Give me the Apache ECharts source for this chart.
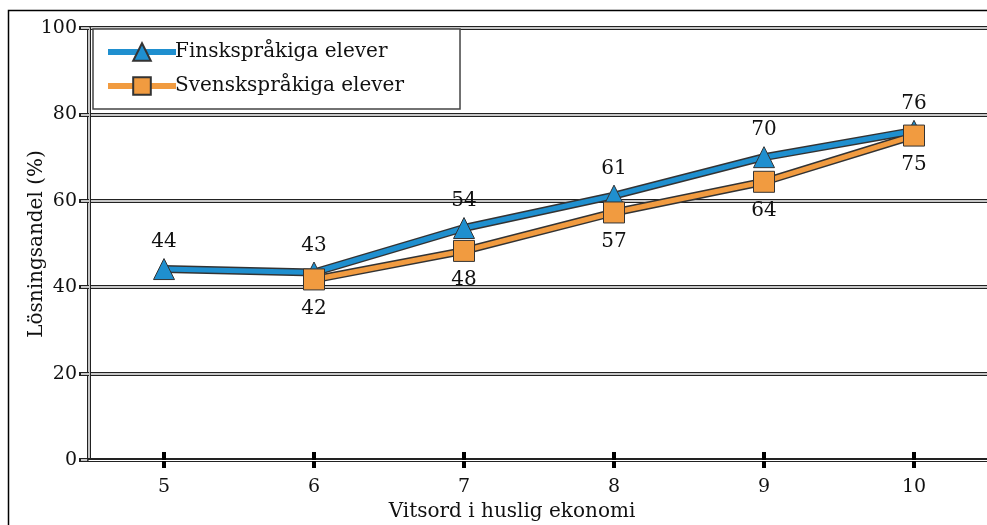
<!DOCTYPE html>
<html>
<head>
<meta charset="utf-8">
<script src="https://cdn.jsdelivr.net/npm/echarts@6/dist/echarts.min.js"></script>
<style>
  html, body { margin: 0; padding: 0; background: #fff; }
  #chart { width: 987px; height: 525px; }
</style>
</head>
<body>
<div id="chart"></div>
<script>
// vitsord (grade) categories
var grades = ['5', '6', '7', '8', '9', '10'];
// lösningsandel (%) per grade
var finska = [44.2, 43.4, 53.7, 61.2, 70.1, 76.2];
var svenska = ['-', 41.8, 48.4, 57.3, 64.4, 75.1];

var FONT = 'DejaVu Serif';
var blue = '#1f8fcf';
var orange = '#f19b40';
var edge = '#333';

var chartDom = document.getElementById('chart');
var myChart = echarts.init(chartDom);

var option = {
  animation: false,
  textStyle: { fontFamily: FONT },
  graphic: [{
    type: 'rect',
    shape: { x: 8.5, y: 10.5, width: 990, height: 530 },
    style: { fill: 'none', stroke: '#000', lineWidth: 1.5 },
    z: -10
  }],
  grid: { left: 89, right: -2, top: 28, bottom: 65, outerBoundsMode: 'none', containLabel: false },
  legend: {
    left: 93, top: 29, orient: 'vertical',
    padding: [13, 56, 13, 12],
    itemGap: 14,
    itemWidth: 68, itemHeight: 22,
    backgroundColor: '#fff',
    borderColor: '#444', borderWidth: 1.5,
    lineStyle: { width: 6 },
    textStyle: { fontFamily: FONT, fontSize: 20, color: '#111', padding: [0, 0, 0, -6] },
    data: ['Finskspråkiga elever', 'Svenskspråkiga elever']
  },
  xAxis: [{
    type: 'category',
    data: grades,
    name: 'Vitsord i huslig ekonomi',
    nameLocation: 'middle',
    nameGap: 42,
    nameTextStyle: { fontFamily: FONT, fontSize: 20, color: '#111', padding: [0, 54, 0, 0] },
    axisLine: { lineStyle: { color: '#222', width: 4 } },
    axisTick: { show: true, alignWithLabel: true, length: 8, lineStyle: { color: '#000', width: 4 } },
    axisLabel: { fontFamily: FONT, fontSize: 19, color: '#111', margin: 18 },
    z: 3
  }, {
    type: 'category',
    data: grades,
    position: 'bottom',
    axisLine: { lineStyle: { color: '#fff', width: 1.2 } },
    axisTick: { show: true, alignWithLabel: true, inside: true, length: 8, lineStyle: { color: '#000', width: 4 } },
    axisLabel: { show: false },
    z: 4
  }],
  yAxis: [{
    type: 'value', min: 0, max: 100, interval: 20,
    name: 'Lösningsandel (%)',
    nameLocation: 'middle',
    nameGap: 42,
    nameMoveOverlap: false,
    nameTextStyle: { fontFamily: FONT, fontSize: 20, color: '#111' },
    axisLine: { show: true, lineStyle: { color: '#222', width: 4 } },
    axisTick: { show: true, length: 10, lineStyle: { color: '#222', width: 4 } },
    axisLabel: { fontFamily: FONT, fontSize: 19, color: '#111', margin: 12 },
    splitLine: { lineStyle: { color: '#222', width: 4 } }
  }, {
    type: 'value', min: 0, max: 100, interval: 20, position: 'left',
    axisLine: { show: true, lineStyle: { color: '#fff', width: 1.5 } },
    axisTick: { show: true, length: 8, lineStyle: { color: '#fff', width: 1.5 } },
    axisLabel: { show: false },
    splitLine: { lineStyle: { color: '#fff', width: 1.5 } }
  }],
  series: [{
    // outlines behind the coloured lines
    type: 'line', data: finska, symbol: 'none', silent: true,
    lineStyle: { color: edge, width: 8 }, z: 2
  }, {
    type: 'line', data: svenska, symbol: 'none', silent: true,
    lineStyle: { color: edge, width: 8 }, z: 2
  }, {
    name: 'Svenskspråkiga elever',
    type: 'line', data: svenska,
    symbol: 'rect', symbolSize: 21,
    itemStyle: { color: orange, borderColor: edge, borderWidth: 1 },
    lineStyle: { color: orange, width: 5 },
    label: {
      show: true, position: 'bottom', distance: 8,
      fontFamily: FONT, fontSize: 20, color: '#111',
      formatter: function (p) { return Math.round(p.value); }
    },
    z: 3
  }, {
    name: 'Finskspråkiga elever',
    type: 'line', data: finska,
    symbol: 'triangle', symbolSize: 21,
    itemStyle: { color: blue, borderColor: edge, borderWidth: 1 },
    lineStyle: { color: blue, width: 5 },
    label: {
      show: true, position: 'top', distance: 6,
      fontFamily: FONT, fontSize: 20, color: '#111',
      formatter: function (p) { return Math.round(p.value); }
    },
    z: 2.5
  }]
};

option && myChart.setOption(option);
</script>
</body>
</html>
